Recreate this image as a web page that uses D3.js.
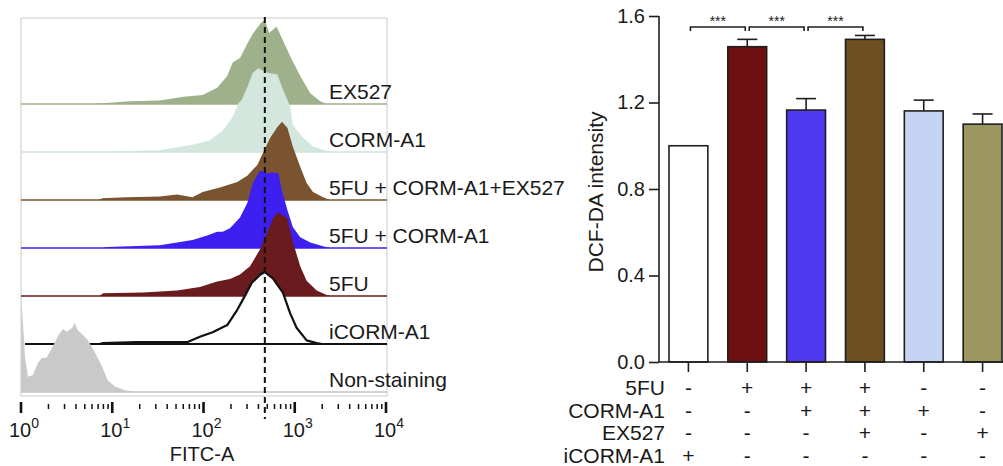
<!DOCTYPE html>
<html>
<head>
<meta charset="utf-8">
<script src="https://cdn.jsdelivr.net/npm/d3@7"></script>
<style>
body { margin: 0; background: #fff; }
svg text { font-family: "Liberation Sans", Arial, sans-serif; fill: #1a1a1a; }
</style>
</head>
<body>
<svg id="fig" width="1003" height="466"></svg>
<script>
// ---- flow cytometry histograms (log10 FITC-A, normalised count) ----
const histLabels = ["EX527", "CORM-A1", "5FU + CORM-A1+EX527", "5FU + CORM-A1", "5FU", "iCORM-A1", "Non-staining"];

const histEX527 = [[0.79,0],[1.19,3],[1.52,4],[1.78,8],[1.99,10],[2.15,18],[2.26,31],[2.32,46],[2.40,51],[2.48,67],[2.54,78],
	[2.62,89],[2.67,94],[2.72,79],[2.80,86],[2.86,73],[2.95,53],[3.06,31],[3.17,12],[3.28,3],[3.35,0]];
const histCORM = [[0.87,0],[1.52,2],[1.88,8],[2.07,13],[2.21,24],[2.32,39],[2.38,54],[2.42,58],[2.48,72],[2.54,88],[2.60,93],
	[2.70,88],[2.81,86],[2.86,72],[2.92,58],[2.95,50],[2.98,30],[3.09,16],[3.20,6],[3.35,1],[3.44,0]];
const histFuCormEx = [[0.85,0],[0.89,2],[1.16,3],[1.52,4],[1.71,6],[1.88,3],[1.99,9],[2.18,14],[2.37,20],[2.48,27],[2.59,39],
	[2.65,52],[2.73,69],[2.81,81],[2.86,87],[2.92,80],[2.98,59],[3.06,37],[3.13,19],[3.20,9],[3.31,3],[3.39,0]];
const histFuCorm = [[0.90,0],[0.94,1],[1.52,3],[1.71,6],[1.88,9],[2.04,14],[2.15,18],[2.21,18],[2.29,22],[2.40,34],[2.48,50],
	[2.54,72],[2.62,86],[2.70,83],[2.76,84],[2.82,83],[2.86,64],[2.92,42],[2.98,23],[3.06,12],[3.17,6],[3.31,2],[3.39,0]];
const hist5FU = [[0.86,0],[0.90,3],[1.34,4],[1.71,6],[1.96,10],[2.15,16],[2.29,19],[2.40,24],[2.51,33],[2.62,52],[2.70,71],
	[2.76,86],[2.82,93],[2.92,86],[2.98,60],[3.06,33],[3.13,17],[3.24,6],[3.35,1],[3.40,0]];
const histICORM = [[0.86,0],[0.90,1],[1.27,2],[1.82,2],[1.96,8],[2.10,13],[2.26,21],[2.37,38],[2.43,49],[2.53,68],[2.62,77],
	[2.67,80],[2.76,73],[2.87,57],[2.95,34],[3.02,18],[3.13,4],[3.24,1],[3.30,0]];
const histNoStain = [[0,0],[0.005,104],[0.044,39],[0.077,17],[0.13,19],[0.19,33],[0.23,38],[0.28,38],[0.34,49],[0.41,63],[0.46,70],
	[0.50,67],[0.56,71],[0.59,77],[0.62,69],[0.68,63],[0.73,58],[0.81,44],[0.89,28],[0.95,13],[1.03,6],[1.14,2],[1.25,0]];

const histSeries = [histEX527, histCORM, histFuCormEx, histFuCorm, hist5FU, histICORM, histNoStain];
const histFill = ["#9eb18a", "#d3e7df", "#7a5330", "#3d1ff2", "#6a1b1d", "#ffffff", "#c9c9c9"];
const histLine = ["#9eb18a", "#cfe3db", "#7a5330", "#3d1ff2", "#6a1b1d", "#111111", "#c4c4c4"];

const gateFITC = 470;
const fitcDecades = [0, 1, 2, 3, 4];

// ---- DCF-DA bar chart ----
const barGroups = ["iCORM-A1", "5FU", "5FU+CORM-A1", "5FU+CORM-A1+EX527", "CORM-A1", "EX527"];
const barMeans = [1.0, 1.458, 1.165, 1.492, 1.161, 1.10];
const barErrors = [0, 0.034, 0.053, 0.018, 0.05, 0.047];
const barColors = ["#ffffff", "#6e0f12", "#4f39f1", "#6e5020", "#c6d4f3", "#9c9761"];
const yTicks = [0.0, 0.4, 0.8, 1.2, 1.6];

const treatmentNames = ["5FU", "CORM-A1", "EX527", "iCORM-A1"];
const treat5FU = ["-", "+", "+", "+", "-", "-"];
const treatCORM = ["-", "-", "+", "+", "+", "-"];
const treatEX527 = ["-", "-", "-", "+", "-", "+"];
const treatICORM = ["+", "-", "-", "-", "-", "-"];
const treatTable = [treat5FU, treatCORM, treatEX527, treatICORM];

const sigPairs = [[0, 1], [1, 2], [2, 3]];
const sigLabels = ["***", "***", "***"];

let svg = d3.select("#fig");

//---------------- left panel ----------------
const fitc = d3.scaleLog().domain([1, 1e4]).range([21, 386]);
const rowY = d3.scalePoint().domain(histLabels).range([104, 392]);
const count = d3.scaleLinear().domain([0, 100]).range([0, 90]);

// light frame
svg.append("rect")
	.attr("x", 21).attr("y", 18)
	.attr("width", 366).attr("height", 378)
	.style("fill", "none").style("stroke", "#cbcbcb").style("stroke-width", 1);

let left = svg.append("g");
histSeries.forEach((h, i) => {
	const base = rowY(histLabels[i]);
	const area = d3.area()
		.x(d => fitc(Math.pow(10, d[0])))
		.y0(base)
		.y1(d => base - count(d[1]));
	const line = d3.line()
		.x(d => fitc(Math.pow(10, d[0])))
		.y(d => base - count(d[1]));

	left.append("path")
		.attr("d", area(h))
		.style("fill", histFill[i])
		.style("stroke", "none");

	// outlined histogram (iCORM-A1)
	if (histFill[i] === "#ffffff") {
		left.append("path")
			.attr("d", line(h))
			.style("fill", "none")
			.style("stroke", histLine[i])
			.style("stroke-width", 2.2)
			.style("stroke-linejoin", "round");
	}

	left.append("line")
		.attr("x1", i === 5 ? 25 : 21).attr("x2", 387)
		.attr("y1", base).attr("y2", base)
		.style("stroke", histLine[i])
		.style("stroke-width", i === 5 ? 2 : 1.6);
});

// labels
left.selectAll(".histLabel")
	.data(histLabels)
	.enter()
	.append("text")
	.attr("class", "histLabel")
	.attr("x", 329)
	.attr("y", d => rowY(d) - 5)
	.style("font-size", "21px")
	.text(d => d);

// gate line
left.append("line")
	.attr("x1", fitc(gateFITC)).attr("x2", fitc(gateFITC))
	.attr("y1", 17).attr("y2", 419)
	.style("stroke", "#111")
	.style("stroke-width", 2)
	.style("stroke-dasharray", "6,4");

// log axis ticks
let minorTicks = [];
for (let e = 0; e < 4; e++) {
	for (let m = 2; m <= 9; m++) minorTicks.push(m * Math.pow(10, e));
}
left.selectAll(".minor")
	.data(minorTicks)
	.enter()
	.append("line")
	.attr("x1", d => fitc(d)).attr("x2", d => fitc(d))
	.attr("y1", 404).attr("y2", 409)
	.style("stroke", "#111").style("stroke-width", 1.5);

left.selectAll(".major")
	.data(fitcDecades)
	.enter()
	.append("line")
	.attr("x1", d => fitc(Math.pow(10, d))).attr("x2", d => fitc(Math.pow(10, d)))
	.attr("y1", 402).attr("y2", 413)
	.style("stroke", "#111").style("stroke-width", 2.6);

let decLab = left.selectAll(".decLab")
	.data(fitcDecades)
	.enter()
	.append("text")
	.attr("x", d => fitc(Math.pow(10, d)) + 3)
	.attr("y", 437)
	.attr("text-anchor", "middle")
	.style("font-size", "20px");
decLab.append("tspan").text("10");
decLab.append("tspan")
	.attr("dy", -9)
	.style("font-size", "14px")
	.text(d => d);

left.append("text")
	.attr("x", 202).attr("y", 461)
	.attr("text-anchor", "middle")
	.style("font-size", "20px")
	.text("FITC-A");

//---------------- right panel ----------------
const xb = d3.scaleBand().domain(barGroups).range([659, 1012]).paddingInner(0.34).paddingOuter(0.17);
const yb = d3.scaleLinear().domain([0, 1.6]).range([362, 16]);
let right = svg.append("g");

right.selectAll(".bar")
	.data(barMeans)
	.enter()
	.append("rect")
	.attr("x", (d, i) => xb(barGroups[i]))
	.attr("y", d => yb(d))
	.attr("width", xb.bandwidth())
	.attr("height", d => yb(0) - yb(d))
	.style("fill", (d, i) => barColors[i])
	.style("stroke", "#1e1e1e")
	.style("stroke-width", 1.6);

// error bars
barMeans.forEach((m, i) => {
	if (!barErrors[i]) return;
	const cx = xb(barGroups[i]) + xb.bandwidth() / 2;
	right.append("line")
		.attr("x1", cx).attr("x2", cx)
		.attr("y1", yb(m)).attr("y2", yb(m + barErrors[i]))
		.style("stroke", "#1e1e1e").style("stroke-width", 1.6);
	right.append("line")
		.attr("x1", cx - 10).attr("x2", cx + 10)
		.attr("y1", yb(m + barErrors[i])).attr("y2", yb(m + barErrors[i]))
		.style("stroke", "#1e1e1e").style("stroke-width", 1.6);
});

// y axis
let yAxis = right.append("g")
	.attr("transform", "translate(659,0)")
	.call(d3.axisLeft(yb).tickValues(yTicks).tickFormat(d3.format(".1f")).tickSize(10).tickPadding(4));
yAxis.select(".domain").attr("d", "M0," + yb(1.6) + "V" + yb(0)).style("stroke", "#1e1e1e").style("stroke-width", 1.6);
yAxis.selectAll(".tick line").style("stroke", "#1e1e1e").style("stroke-width", 1.6);
yAxis.selectAll(".tick text")
	.style("font-size", "20px")
	.style("font-family", "Liberation Sans, Arial, sans-serif")
	.attr("fill", "#1a1a1a");

right.append("text")
	.attr("transform", "translate(603,192) rotate(-90)")
	.attr("text-anchor", "middle")
	.style("font-size", "21px")
	.text("DCF-DA intensity");

// x axis line and ticks
right.append("line")
	.attr("x1", 659).attr("x2", 1003)
	.attr("y1", yb(0)).attr("y2", yb(0))
	.style("stroke", "#1e1e1e").style("stroke-width", 1.6);
right.selectAll(".xtick")
	.data(barGroups)
	.enter()
	.append("line")
	.attr("x1", d => xb(d) + xb.bandwidth() / 2)
	.attr("x2", d => xb(d) + xb.bandwidth() / 2)
	.attr("y1", yb(0)).attr("y2", yb(0) + 10)
	.style("stroke", "#1e1e1e").style("stroke-width", 1.6);

// treatment table
const tableY = d3.scalePoint().domain(treatmentNames).range([395, 463]);
right.selectAll(".treatName")
	.data(treatmentNames)
	.enter()
	.append("text")
	.attr("x", 665)
	.attr("y", d => tableY(d))
	.attr("text-anchor", "end")
	.style("font-size", "21px")
	.text(d => d);

treatTable.forEach((row, r) => {
	right.selectAll(".sign" + r)
		.data(row)
		.enter()
		.append("text")
		.attr("x", (d, i) => xb(barGroups[i]) + xb.bandwidth() / 2)
		.attr("y", tableY(treatmentNames[r]))
		.attr("text-anchor", "middle")
		.style("font-size", "21px")
		.text(d => d);
});

// significance brackets
sigPairs.forEach((p, k) => {
	const xa = xb(barGroups[p[0]]) + xb.bandwidth() / 2 + 2;
	const xc = xb(barGroups[p[1]]) + xb.bandwidth() / 2 - 2;
	right.append("path")
		.attr("d", "M" + xa + ",31V27H" + xc + "V31")
		.style("fill", "none")
		.style("stroke", "#1e1e1e")
		.style("stroke-width", 1.6);
	right.append("text")
		.attr("x", (xa + xc) / 2)
		.attr("y", 26)
		.attr("text-anchor", "middle")
		.style("font-size", "14px")
		.text(sigLabels[k]);
});
</script>
</body>
</html>
